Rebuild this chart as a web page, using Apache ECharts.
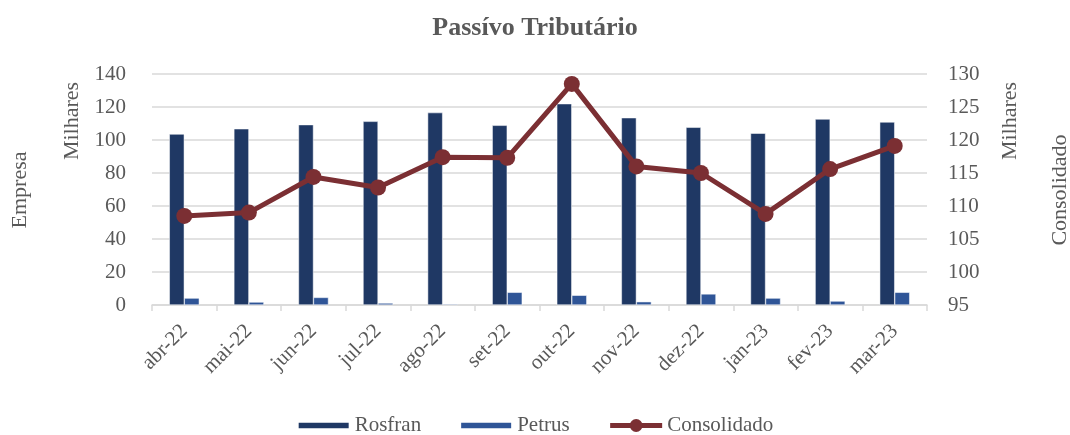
<!DOCTYPE html>
<html>
<head>
<meta charset="utf-8">
<script src="https://cdn.jsdelivr.net/npm/echarts@6/dist/echarts.min.js"></script>
<style>
  html, body { margin: 0; padding: 0; background: #fff; }
  #chart { width: 1070px; height: 435px; }
</style>
</head>
<body>
<div id="chart"></div>
<script>
// meses
const categories = ['abr-22', 'mai-22', 'jun-22', 'jul-22', 'ago-22', 'set-22', 'out-22', 'nov-22', 'dez-22', 'jan-23', 'fev-23', 'mar-23'];
// valores em milhares
const rosfran = [103.6, 106.8, 109.3, 111.3, 116.6, 108.9, 122.0, 113.5, 107.7, 104.1, 112.7, 110.9];
const petrus = [4.2, 1.8, 4.6, 1.2, 0.6, 7.7, 5.9, 2.0, 6.7, 4.2, 2.4, 7.7];
const consolidado = [108.5, 109.0, 114.4, 112.8, 117.4, 117.3, 128.5, 116.0, 115.0, 108.8, 115.6, 119.1];

const FONT = '"Liberation Serif", serif';
const GREY = '#595959';
const WINE = '#7b2f33';

const chart = echarts.init(document.getElementById('chart'));
chart.setOption({
  animation: false,
  title: {
    text: 'Passívo Tributário',
    left: 'center',
    top: 10,
    textStyle: { fontFamily: FONT, fontSize: 26, fontWeight: 'bold', color: GREY }
  },
  grid: { left: 152, right: 143, top: 74, bottom: 130 },
  legend: {
    bottom: -6,
    left: 'center',
    itemGap: 38,
    itemWidth: 52,
    itemHeight: 16,
    textStyle: { fontFamily: FONT, fontSize: 21, color: GREY },
    data: [
      { name: 'Rosfran', icon: 'path://M0,0H49V7H0Z' },
      { name: 'Petrus', icon: 'path://M0,0H49V7H0Z' },
      { name: 'Consolidado', lineStyle: { width: 5, color: WINE } }
    ]
  },
  xAxis: {
    type: 'category',
    data: categories,
    axisLine: { lineStyle: { color: '#d9d9d9', width: 1.5 } },
    axisTick: { show: true, length: 6, lineStyle: { color: '#d9d9d9', width: 1.5 } },
    axisLabel: { rotate: 45, margin: 23, fontFamily: FONT, fontSize: 21, color: GREY }
  },
  yAxis: [
    {
      type: 'value', min: 0, max: 140, interval: 20,
      axisLine: { show: false }, axisTick: { show: false },
      splitLine: { lineStyle: { color: '#d9d9d9', width: 1.5 } },
      axisLabel: { margin: 26, fontFamily: FONT, fontSize: 21, color: GREY }
    },
    {
      type: 'value', min: 95, max: 130, interval: 5,
      axisLine: { show: false }, axisTick: { show: false },
      splitLine: { show: false },
      axisLabel: { margin: 21, fontFamily: FONT, fontSize: 21, color: GREY }
    }
  ],
  graphic: [
    { type: 'text', x: 20, y: 190, rotation: Math.PI / 2,
      style: { text: 'Empresa', align: 'center', verticalAlign: 'middle', font: '22px ' + FONT, fill: GREY } },
    { type: 'text', x: 72, y: 121, rotation: Math.PI / 2,
      style: { text: 'Milhares', align: 'center', verticalAlign: 'middle', font: '22px ' + FONT, fill: GREY } },
    { type: 'text', x: 1010, y: 121, rotation: Math.PI / 2,
      style: { text: 'Milhares', align: 'center', verticalAlign: 'middle', font: '22px ' + FONT, fill: GREY } },
    { type: 'text', x: 1060, y: 190, rotation: Math.PI / 2,
      style: { text: 'Consolidado', align: 'center', verticalAlign: 'middle', font: '22px ' + FONT, fill: GREY } }
  ],
  series: [
    {
      name: 'Rosfran', type: 'bar', data: rosfran, barWidth: 15, barGap: '0%',
      itemStyle: { color: '#1f3864', borderColor: '#ffffff', borderWidth: 0.5 }
    },
    {
      name: 'Petrus', type: 'bar', data: petrus, barWidth: 15,
      itemStyle: { color: '#2f5597', borderColor: '#ffffff', borderWidth: 0.5 }
    },
    {
      name: 'Consolidado', type: 'line', yAxisIndex: 1, data: consolidado,
      symbol: 'circle', symbolSize: 16,
      lineStyle: { color: WINE, width: 5 },
      itemStyle: { color: WINE }
    }
  ]
});
</script>
</body>
</html>
